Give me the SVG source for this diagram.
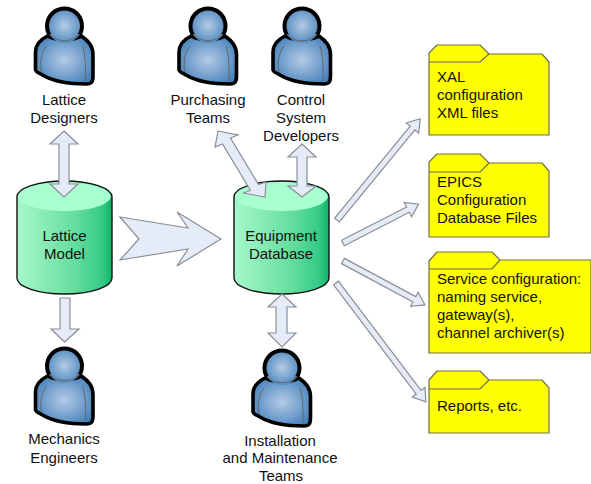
<svg xmlns="http://www.w3.org/2000/svg" width="591" height="484" viewBox="0 0 591 484">
<style>
text{font-family:"Liberation Sans",Arial,sans-serif;font-size:15px;fill:#111}
.c{text-anchor:middle}
.arrow{fill:#e6ecf7;stroke:#8a8f96;stroke-width:1.2;stroke-linejoin:miter}
.folder{fill:#ffff00;stroke:#6f6f4a;stroke-width:1.2;stroke-linejoin:round}
.fl{fill:none;stroke:#6f6f4a;stroke-width:1.2}
.cyl{fill:url(#cylG);stroke:#111;stroke-width:1.4}
.top{fill:#a8ffd0}
</style>
<defs>
<linearGradient id="cylG" x1="0" y1="0" x2="1" y2="0">
<stop offset="0" stop-color="#a6f8cc"/><stop offset=".6" stop-color="#66de9f"/><stop offset=".9" stop-color="#34ca86"/><stop offset="1" stop-color="#0cb464"/>
</linearGradient>
<radialGradient id="pG" cx=".5" cy=".5" r=".62">
<stop offset="0" stop-color="#b4cbe6"/><stop offset="1" stop-color="#3f7db8"/>
</radialGradient>
<g id="person">
<path d="M-17 36C-25 40-29 46-29 52L-29 70C-28 73-25 73-22 75C-12 81 2 84 22 84C27 84 28.500 82 28.500 76L28.500 55C28.500 46 24 41 17 36C8 41-8 41-17 36Z" fill="url(#pG)" stroke="#000" stroke-width="3.600" stroke-linejoin="round"/>
<path d="M-18 46C-23 52-25 62-23 72M18 46C21 55 21.500 70 21 81" fill="none" stroke="#666" stroke-width="1"/>
<circle cx="0" cy="25.500" r="17.500" fill="url(#pG)"/>
<path d="M-15 35A17.500 17.500 0 1 1 15 35" fill="none" stroke="#000" stroke-width="4"/>
<path d="M-15 34C-8 43 8 43 15 34" fill="none" stroke="#666" stroke-width="1.200"/>
</g>
<g id="cylinder">
<path class="cyl" d="M0 16A47.500 16 0 0 1 95 16L95 97A47.500 16 0 0 1 0 97Z"/>
<path class="top" d="M1 16A46.500 15 0 0 1 94 16C90 26 68 30 47.500 30C27 30 5 26 1 16Z"/>
</g>
</defs>

<g id="lattice-model">
<use href="#cylinder" x="17" y="181"/>
<text class="c" x="64.500" y="241">Lattice</text><text class="c" x="64.500" y="259">Model</text>
</g>
<g id="equipment-database">
<use href="#cylinder" x="234" y="181"/>
<text class="c" x="281" y="241">Equipment</text><text class="c" x="281" y="259">Database</text>
</g>

<g id="connectors">
<polygon class="arrow" points="64,131 78,144 69,144 69,184 78,184 64,197 50,184 59,184 59,144 50,144"/>
<polygon class="arrow" points="64.500,342 79,329 70,329 70,298 60,298 60,329 51,329"/>
<polygon class="arrow" points="120,217 188,228 177,212 221,239 177,266 188,249 120,260 139,239"/>
<polygon class="arrow" points="218,131 238,135 230.500,138 258.500,184.500 266,182 265,197 243,193 250.500,190.500 222.500,144 215,147"/>
<polygon class="arrow" points="302,144 316,157 307,157 307,186 316,186 302,197 288,186 297,186 297,157 288,157"/>
<polygon class="arrow" points="282,294 296,307 287,307 287,333 296,333 282,347 268,333 276,333 276,307 268,307"/>
<polygon class="arrow" transform="translate(337 220) rotate(-50.600)" points="0,-3 119,-3 119,-8 131,0 119,8 119,3 0,3"/>
<polygon class="arrow" transform="translate(343 243) rotate(-27.200)" points="0,-3 73,-3 73,-8 85,0 73,8 73,3 0,3"/>
<polygon class="arrow" transform="translate(343 261) rotate(28.200)" points="0,-3 81,-3 81,-8 93,0 81,8 81,3 0,3"/>
<polygon class="arrow" transform="translate(336 283) rotate(52.900)" points="0,-3 137,-3 137,-8 149,0 137,8 137,3 0,3"/>
</g>

<g id="lattice-designers">
<use href="#person" x="64.500" y="0"/>
<text class="c" x="64" y="105">Lattice</text><text class="c" x="64" y="123">Designers</text>
</g>
<g id="purchasing-teams">
<use href="#person" x="208" y="0"/>
<text class="c" x="208" y="105">Purchasing</text><text class="c" x="208" y="123">Teams</text>
</g>
<g id="control-developers">
<use href="#person" x="302" y="0"/>
<text class="c" x="301" y="105">Control</text><text class="c" x="301" y="123">System</text><text class="c" x="301" y="141">Developers</text>
</g>
<g id="mechanics-engineers">
<use href="#person" x="64.500" y="340"/>
<text class="c" x="64" y="444">Mechanics</text><text class="c" x="64" y="463">Engineers</text>
</g>
<g id="installation-teams">
<use href="#person" x="282" y="342"/>
<text class="c" x="280" y="446">Installation</text><text class="c" x="280" y="463">and Maintenance</text><text class="c" x="281" y="480.500">Teams</text>
</g>

<g id="xal-files">
<path class="folder" d="M429 53L437 45L480 45L489 54L542 54L549 62L549 135L429 135Z"/>
<path class="fl" d="M429 62L480 62L489 54"/>
<text x="437" y="82">XAL</text><text x="437" y="100">configuration</text><text x="437" y="117.500">XML files</text>
</g>
<g id="epics-files">
<path class="folder" d="M429 162L437 154L480 154L489 163L542 163L549 171L549 237L429 237Z"/>
<path class="fl" d="M429 172L480 172L489 163"/>
<text x="437" y="187">EPICS</text><text x="437" y="205">Configuration</text><text x="437" y="223">Database Files</text>
</g>
<g id="service-configuration">
<path class="folder" d="M429 261L437 252L492 252L500 260L591 260L591 353L429 353Z"/>
<path class="fl" d="M429 269L492 269L500 260"/>
<text x="437" y="284">Service configuration:</text><text x="437" y="302">naming service,</text><text x="437" y="320">gateway(s),</text><text x="437" y="338">channel archiver(s)</text>
</g>
<g id="reports">
<path class="folder" d="M429 380L437 371L480 371L489 380L542 380L549 388L549 433L429 433Z"/>
<path class="fl" d="M429 389L480 389L489 380"/>
<text x="437" y="411">Reports, etc.</text>
</g>
</svg>
